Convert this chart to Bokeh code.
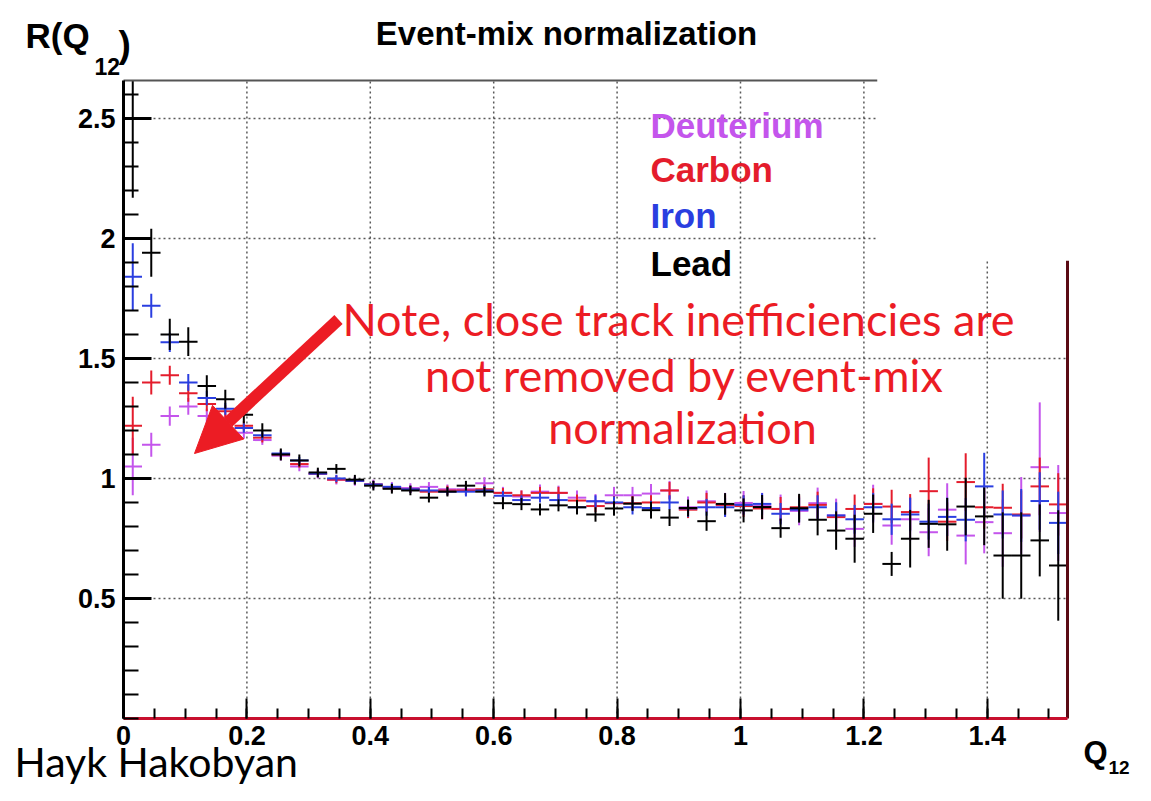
from bokeh.plotting import figure
from bokeh.models import (Range1d, FixedTicker, CustomJSTickFormatter, Label, Arrow,
                          NormalHead, BoxAnnotation, ColumnDataSource)
from bokeh.embed import file_html
from bokeh.resources import INLINE

# ---------------- data ----------------
q12 = [0.015, 0.045, 0.075, 0.105, 0.135, 0.165, 0.195, 0.225, 0.255, 0.285,
       0.315, 0.345, 0.375, 0.405, 0.435, 0.465, 0.495, 0.525, 0.555, 0.585,
       0.615, 0.645, 0.675, 0.705, 0.735, 0.765, 0.795, 0.825, 0.855, 0.885,
       0.915, 0.945, 0.975, 1.005, 1.035, 1.065, 1.095, 1.125, 1.155, 1.185,
       1.215, 1.245, 1.275, 1.305, 1.335, 1.365, 1.395, 1.425, 1.455, 1.485, 1.515]
half_bin = 0.015

deuterium = [1.05, 1.14, 1.26, 1.30, 1.26, 1.24, 1.19, 1.16, 1.095, 1.05,
             1.02, 0.995, 0.99, 0.975, 0.965, 0.96, 0.965, 0.955, 0.955, 0.98,
             0.94, 0.925, 0.945, 0.94, 0.92, 0.905, 0.93, 0.93, 0.937, 0.95,
             0.88, 0.905, 0.89, 0.898, 0.885, 0.873, 0.865, 0.897, 0.846, 0.79,
             0.894, 0.804, 0.83, 0.776, 0.87, 0.762, 0.818, 0.772, 0.846, 1.047, 0.856]
deuterium_err = [0.12, 0.05, 0.04, 0.035, 0.03, 0.03, 0.025, 0.02, 0.02, 0.02,
                 0.02, 0.02, 0.02, 0.02, 0.02, 0.02, 0.02, 0.02, 0.025, 0.025,
                 0.025, 0.025, 0.03, 0.03, 0.03, 0.03, 0.035, 0.035, 0.04, 0.04,
                 0.045, 0.045, 0.05, 0.05, 0.055, 0.06, 0.06, 0.065, 0.07, 0.075,
                 0.08, 0.08, 0.09, 0.1, 0.11, 0.12, 0.13, 0.14, 0.16, 0.27, 0.2]

carbon = [1.22, 1.40, 1.43, 1.355, 1.31, 1.28, 1.22, 1.17, 1.10, 1.06,
          1.02, 0.995, 0.99, 0.975, 0.96, 0.955, 0.945, 0.95, 0.95, 0.955,
          0.94, 0.93, 0.94, 0.94, 0.908, 0.885, 0.897, 0.897, 0.90, 0.95,
          0.87, 0.90, 0.89, 0.885, 0.875, 0.873, 0.88, 0.89, 0.839, 0.873,
          0.894, 0.883, 0.86, 0.947, 0.82, 0.985, 0.88, 0.878, 0.85, 0.967, 0.892]
carbon_err = [0.12, 0.05, 0.04, 0.035, 0.03, 0.025, 0.02, 0.02, 0.02, 0.015,
              0.015, 0.015, 0.015, 0.015, 0.015, 0.015, 0.015, 0.02, 0.02, 0.02,
              0.02, 0.02, 0.025, 0.025, 0.025, 0.025, 0.03, 0.03, 0.03, 0.035,
              0.035, 0.04, 0.04, 0.045, 0.045, 0.05, 0.05, 0.055, 0.06, 0.06,
              0.065, 0.07, 0.075, 0.14, 0.08, 0.12, 0.09, 0.1, 0.1, 0.12, 0.13]

iron = [1.84, 1.72, 1.567, 1.40, 1.335, 1.29, 1.21, 1.18, 1.104, 1.075,
        1.02, 1.00, 0.99, 0.975, 0.965, 0.955, 0.95, 0.945, 0.945, 0.95,
        0.928, 0.91, 0.92, 0.91, 0.88, 0.905, 0.90, 0.88, 0.877, 0.90,
        0.875, 0.88, 0.88, 0.89, 0.894, 0.853, 0.87, 0.88, 0.846, 0.83,
        0.88, 0.83, 0.85, 0.82, 0.84, 0.828, 0.967, 0.85, 0.846, 0.906, 0.815]
iron_err = [0.14, 0.05, 0.04, 0.035, 0.03, 0.025, 0.02, 0.02, 0.015, 0.015,
            0.015, 0.015, 0.015, 0.015, 0.015, 0.015, 0.015, 0.015, 0.02, 0.02,
            0.02, 0.02, 0.02, 0.025, 0.025, 0.025, 0.025, 0.03, 0.03, 0.03,
            0.035, 0.035, 0.04, 0.04, 0.045, 0.045, 0.05, 0.05, 0.055, 0.06,
            0.06, 0.065, 0.07, 0.075, 0.08, 0.09, 0.14, 0.1, 0.11, 0.12, 0.13]

lead = [2.50, 1.94, 1.60, 1.57, 1.385, 1.33, 1.265, 1.20, 1.10, 1.075,
        1.025, 1.04, 0.995, 0.97, 0.957, 0.95, 0.92, 0.945, 0.97, 0.945,
        0.897, 0.893, 0.871, 0.888, 0.88, 0.85, 0.875, 0.895, 0.868, 0.837,
        0.877, 0.822, 0.894, 0.867, 0.881, 0.793, 0.876, 0.828, 0.783, 0.749,
        0.853, 0.644, 0.749, 0.811, 0.809, 0.883, 0.842, 0.679, 0.679, 0.742, 0.6375]
lead_err = [0.33, 0.10, 0.065, 0.06, 0.045, 0.04, 0.035, 0.03, 0.025, 0.025,
            0.02, 0.02, 0.02, 0.02, 0.02, 0.02, 0.02, 0.02, 0.02, 0.02,
            0.025, 0.025, 0.025, 0.025, 0.03, 0.03, 0.03, 0.03, 0.035, 0.035,
            0.035, 0.04, 0.045, 0.05, 0.05, 0.04, 0.06, 0.065, 0.08, 0.1,
            0.08, 0.05, 0.12, 0.1, 0.11, 0.12, 0.12, 0.18, 0.18, 0.15, 0.23]

series_names = ["Deuterium", "Carbon", "Iron", "Lead"]
series_colors = ["#c455ec", "#e41c2c", "#2a3ee0", "#000000"]
series_values = [deuterium, carbon, iron, lead]
series_errors = [deuterium_err, carbon_err, iron_err, lead_err]

x_ticks = [0, 0.2, 0.4, 0.6, 0.8, 1.0, 1.2, 1.4]
x_minor = [round(0.05 * k, 2) for k in range(31)]
y_ticks = [0.5, 1.0, 1.5, 2.0, 2.5]
y_minor = [round(0.1 * k, 1) for k in range(27)]

X_MAX, Y_MAX = 1.53, 2.658

# ---------------- layout helpers (canvas pixels -> data units) ----------------
W, H = 1135, 785
F_L, F_R, F_T, F_B = 123, 1067, 80, 718      # histogram frame on the canvas
def dx(px):
    return (px - F_L) / (F_R - F_L) * X_MAX
def dy(py):
    return (F_B - py) / (F_B - F_T) * Y_MAX

p = figure(width=W, height=H, x_range=Range1d(dx(0), dx(W)), y_range=Range1d(dy(H), dy(0)),
           output_backend="svg", toolbar_location=None, title=None,
           min_border=0, background_fill_color="white", border_fill_color="white")
p.outline_line_color = None
p.xgrid.visible = False
p.ygrid.visible = False

TICK_FONT = "Liberation Sans"
fmt = CustomJSTickFormatter(code="return Number(tick.toFixed(2)).toString();")

xa = p.xaxis[0]
xa.fixed_location = 0
xa.bounds = (0, X_MAX)
xa.ticker = FixedTicker(ticks=x_ticks, minor_ticks=x_minor)
xa.formatter = fmt
xa.axis_line_color = "#c8102e"
xa.axis_line_width = 3
xa.major_tick_in = 20
xa.major_tick_out = 0
xa.minor_tick_in = 10
xa.minor_tick_out = 0
xa.major_tick_line_width = 2
xa.minor_tick_line_width = 2
xa.major_tick_line_color = "black"
xa.minor_tick_line_color = "black"
xa.major_label_text_font = TICK_FONT
xa.major_label_text_font_style = "bold"
xa.major_label_text_font_size = "27px"
xa.major_label_text_color = "black"
xa.major_label_standoff = 7

ya = p.yaxis[0]
ya.fixed_location = 0
ya.bounds = (0, Y_MAX)
ya.ticker = FixedTicker(ticks=y_ticks, minor_ticks=y_minor)
ya.formatter = fmt
ya.axis_line_color = "black"
ya.axis_line_width = 3
ya.major_tick_in = 28
ya.major_tick_out = 0
ya.minor_tick_in = 15
ya.minor_tick_out = 0
ya.major_tick_line_width = 3
ya.minor_tick_line_width = 2
ya.major_label_text_font = TICK_FONT
ya.major_label_text_font_style = "bold"
ya.major_label_text_font_size = "27px"
ya.major_label_text_color = "black"
ya.major_label_standoff = 8

# dotted grid inside the histogram frame, at the major ticks
gx = [t for t in x_ticks if t > 0]
p.segment(x0=gx, y0=[0] * len(gx), x1=gx, y1=[Y_MAX] * len(gx),
          line_color="#222222", line_dash="2 3", line_width=1.5, line_alpha=0.75)
p.segment(x0=[0] * len(y_ticks), y0=y_ticks, x1=[X_MAX] * len(y_ticks), y1=y_ticks,
          line_color="#222222", line_dash="2 3", line_width=1.5, line_alpha=0.75)

# ---------------- error-bar crosses ----------------
for name, col, vals, errs in zip(series_names, series_colors, series_values, series_errors):
    src = ColumnDataSource(dict(
        x=q12, y=vals,
        xl=[x - half_bin for x in q12], xr=[x + half_bin for x in q12],
        ylo=[max(v - e, 0) for v, e in zip(vals, errs)],
        yhi=[min(v + e, Y_MAX) for v, e in zip(vals, errs)]))
    p.segment(x0="xl", y0="y", x1="xr", y1="y", source=src, line_color=col, line_width=2)
    p.segment(x0="x", y0="ylo", x1="x", y1="yhi", source=src, line_color=col, line_width=2)

# ---------------- frame pieces ----------------
p.add_layout(BoxAnnotation(left=dx(877), right=dx(W), bottom=dy(260), top=dy(0),
                           fill_color="white", fill_alpha=1.0, line_color=None))
p.segment(x0=[0], y0=[Y_MAX], x1=[dx(877)], y1=[Y_MAX], line_color="#555555", line_width=2)
p.segment(x0=[X_MAX], y0=[0], x1=[X_MAX], y1=[dy(260)], line_color="#5a0a14", line_width=3)

# ---------------- texts (positions are the vertical middles of the text) ----------------
def lab(px, py, text, size, color="black", font="Liberation Sans", style="bold", align="left"):
    p.add_layout(Label(x=dx(px), y=dy(py), text=text, text_color=color, text_font=font,
                       text_font_style=style, text_font_size=size,
                       text_baseline="middle", text_align=align))

leg_y = [125, 169, 215, 263]
for name, col, yy in zip(series_names, series_colors, leg_y):
    lab(650, yy, name, "35px", color=col)

lab(566, 33, "Event-mix normalization", "33px", align="center")
lab(25, 35, "R(Q", "35px")
lab(94, 66, "12", "23px")
lab(118, 44, ")", "37px")
lab(1083, 752, "Q", "31px")
lab(1108, 767, "12", "19px")

RED = "#ec1c24"
lab(678, 318, "Note, close track inefficiencies are", "45px", color=RED, font="Lato",
    style="normal", align="center")
lab(684, 374, "not removed by event-mix", "45px", color=RED, font="Lato",
    style="normal", align="center")
lab(682, 426, "normalization", "45px", color=RED, font="Lato", style="normal", align="center")
p.add_layout(Arrow(end=NormalHead(size=46, fill_color=RED, line_color=RED),
                   x_start=dx(338), y_start=dy(319), x_end=dx(194), y_end=dy(453),
                   line_color=RED, line_width=12))

lab(14, 761, "Hayk Hakobyan", "41px", font="Lato", style="normal")

open("out.html", "w").write(file_html(p, INLINE))
